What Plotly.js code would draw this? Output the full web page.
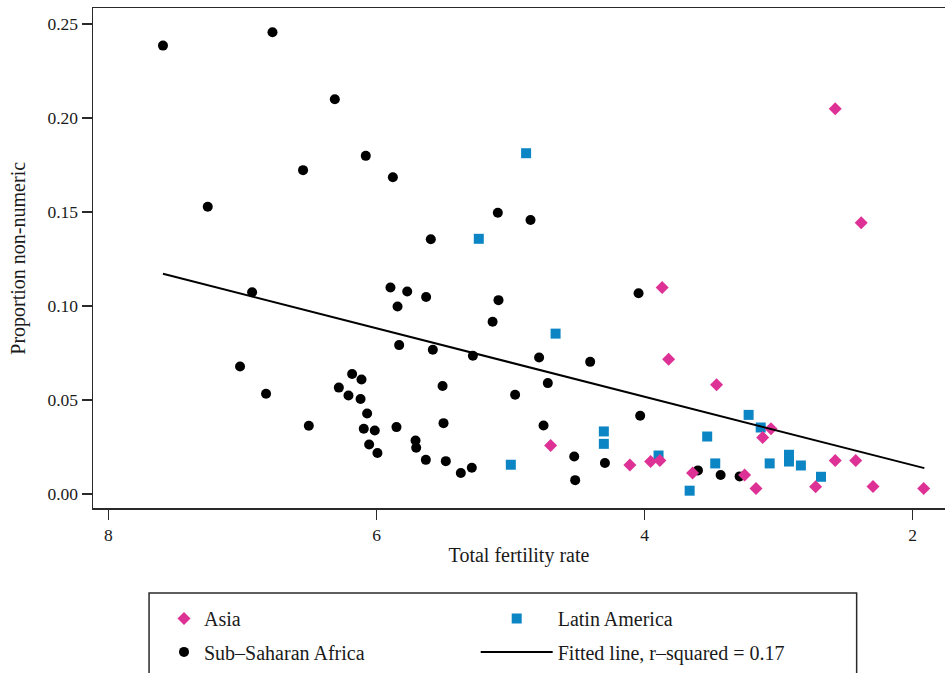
<!DOCTYPE html>
<html>
<head>
<meta charset="utf-8">
<script src="https://cdn.plot.ly/plotly-3.0.1.min.js"></script>
<style>html,body{margin:0;padding:0;background:#fff;}#chart{width:945px;height:673px;}</style>
</head>
<body>
<div id="chart"></div>
<script>
// Asia
const asiaTFR = [2.578, 2.384, 3.869, 3.821, 3.463, 3.057, 3.119, 4.701, 4.110, 3.955, 3.886, 3.642, 3.254, 3.169, 2.724, 2.578, 2.425, 2.296, 1.918];
const asiaProp = [0.2049, 0.1443, 0.1098, 0.0717, 0.0581, 0.0347, 0.0301, 0.0258, 0.0154, 0.0173, 0.0178, 0.0112, 0.0101, 0.0030, 0.0039, 0.0178, 0.0178, 0.0040, 0.0030];

// Latin America
const latTFR = [4.884, 5.237, 4.664, 4.304, 4.304, 4.998, 3.896, 3.664, 3.533, 3.473, 3.224, 3.134, 3.067, 2.923, 2.923, 2.834, 2.684];
const latProp = [0.1812, 0.1357, 0.0853, 0.0333, 0.0267, 0.0156, 0.0205, 0.0018, 0.0306, 0.0163, 0.0421, 0.0354, 0.0163, 0.0209, 0.0173, 0.0152, 0.0092];

// Sub-Saharan Africa
const ssaTFR = [7.593, 6.776, 7.259, 6.548, 6.311, 6.080, 5.878, 5.095, 4.851, 5.595,
  6.928, 7.018, 6.824, 6.505,
  5.896, 5.771, 5.630, 5.843, 5.090, 5.134, 5.831, 5.580, 5.281, 4.787, 4.406, 4.722,
  6.182, 6.112, 6.281, 6.209, 6.119, 5.507, 4.966, 6.070, 6.095, 6.013, 5.851, 5.500,
  4.754, 6.055, 5.993, 5.709, 5.704, 5.632, 5.483, 5.371, 5.289, 4.525, 4.518, 4.296,
  4.045, 4.033, 3.602, 3.433, 3.291];
const ssaProp = [0.2384, 0.2455, 0.1527, 0.1722, 0.2099, 0.1798, 0.1684, 0.1496, 0.1457, 0.1355,
  0.1073, 0.0678, 0.0533, 0.0363,
  0.1098, 0.1077, 0.1048, 0.0997, 0.1031, 0.0916, 0.0792, 0.0767, 0.0735, 0.0726, 0.0703, 0.0590,
  0.0638, 0.0609, 0.0566, 0.0524, 0.0505, 0.0575, 0.0528, 0.0428, 0.0347, 0.0338, 0.0356, 0.0377,
  0.0365, 0.0264, 0.0218, 0.0285, 0.0246, 0.0182, 0.0175, 0.0112, 0.0140, 0.0200, 0.0074, 0.0165,
  0.1068, 0.0416, 0.0126, 0.0101, 0.0094];

// Fitted line
const fitTFR = [7.593, 1.913];
const fitProp = [0.1171, 0.0138];

const xTicks = [8, 6, 4, 2];
const yTicks = [0, 0.05, 0.10, 0.15, 0.20, 0.25];

const FONT = 'Liberation Serif, Times New Roman, serif';
const TXT = '#1a1a1a';
const PINK = '#DE3196';
const BLUE = '#0C85C4';

const traces = [
  {x: ssaTFR, y: ssaProp, type: 'scatter', mode: 'markers', name: 'Sub\u2013Saharan Africa',
   marker: {symbol: 'circle', size: 10, color: '#000'}, legend: 'legend', legendrank: 2, legendgroup: 'g2'},
  {x: latTFR, y: latProp, type: 'scatter', mode: 'markers', name: 'Latin America',
   marker: {symbol: 'square', size: 10, color: BLUE}, legend: 'legend2', legendrank: 1, legendgroup: 'g3'},
  {x: asiaTFR, y: asiaProp, type: 'scatter', mode: 'markers', name: 'Asia',
   marker: {symbol: 'diamond', size: 10, color: PINK}, legend: 'legend', legendrank: 1, legendgroup: 'g1'},
  {x: fitTFR, y: fitProp, type: 'scatter', mode: 'lines', name: 'Fitted line, r\u2013squared = 0.17',
   line: {color: '#000', width: 2}, legend: 'legend2', legendrank: 2, legendgroup: 'g4'}
];

const legendCommon = {
  orientation: 'v', xref: 'container', yref: 'container', xanchor: 'left', yanchor: 'top',
  bgcolor: 'rgba(0,0,0,0)', borderwidth: 0, tracegroupgap: 4.4,
  font: {family: FONT, size: 20, color: TXT}
};

const layout = {
  width: 945, height: 673,
  margin: {l: 93.3, r: 0, t: 8, b: 164.7, autoexpand: false},
  paper_bgcolor: '#fff', plot_bgcolor: '#fff',
  font: {family: FONT, size: 17.5, color: TXT},
  showlegend: true,
  xaxis: {
    range: [8.115, 1.759], tickvals: xTicks, ticktext: xTicks.map(String),
    showgrid: false, zeroline: false, showline: true, linecolor: '#2a2a2a', linewidth: 1.5, mirror: true,
    ticks: 'outside', ticklen: 10, tickwidth: 1.5, tickcolor: '#2a2a2a',
    tickfont: {family: FONT, size: 17.5, color: TXT},
    title: {text: 'Total fertility rate', font: {family: FONT, size: 20, color: TXT}, standoff: 4},
    automargin: true
  },
  yaxis: {
    range: [-0.0074, 0.2584], tickvals: yTicks, ticktext: yTicks.map(v => v.toFixed(2)),
    showgrid: false, zeroline: false, showline: true, linecolor: '#2a2a2a', linewidth: 1.5,
    ticks: 'outside', ticklen: 10, tickwidth: 1.5, tickcolor: '#2a2a2a',
    tickfont: {family: FONT, size: 17.5, color: TXT},
    automargin: false
  },
  annotations: [
    {text: 'Proportion non-numeric', xref: 'paper', yref: 'paper', x: -0.0884, y: 0.5,
     xanchor: 'center', yanchor: 'middle', textangle: -90, showarrow: false,
     font: {family: FONT, size: 20, color: TXT}}
  ],
  legend: Object.assign({}, legendCommon, {x: 164 / 945, y: 1 - 599 / 673, itemwidth: 30}),
  legend2: Object.assign({}, legendCommon, {x: 475.7 / 945, y: 1 - 599 / 673, itemwidth: 72}),
  shapes: [
    {type: 'rect', xref: 'paper', yref: 'paper', x0: 0.0658, x1: 0.8963, y0: -0.1699, y1: -0.40,
     line: {color: '#2a2a2a', width: 1.5}, fillcolor: 'rgba(0,0,0,0)', layer: 'below'}
  ]
};

Plotly.newPlot('chart', traces, layout, {displayModeBar: false, staticPlot: true});
</script>
</body>
</html>
